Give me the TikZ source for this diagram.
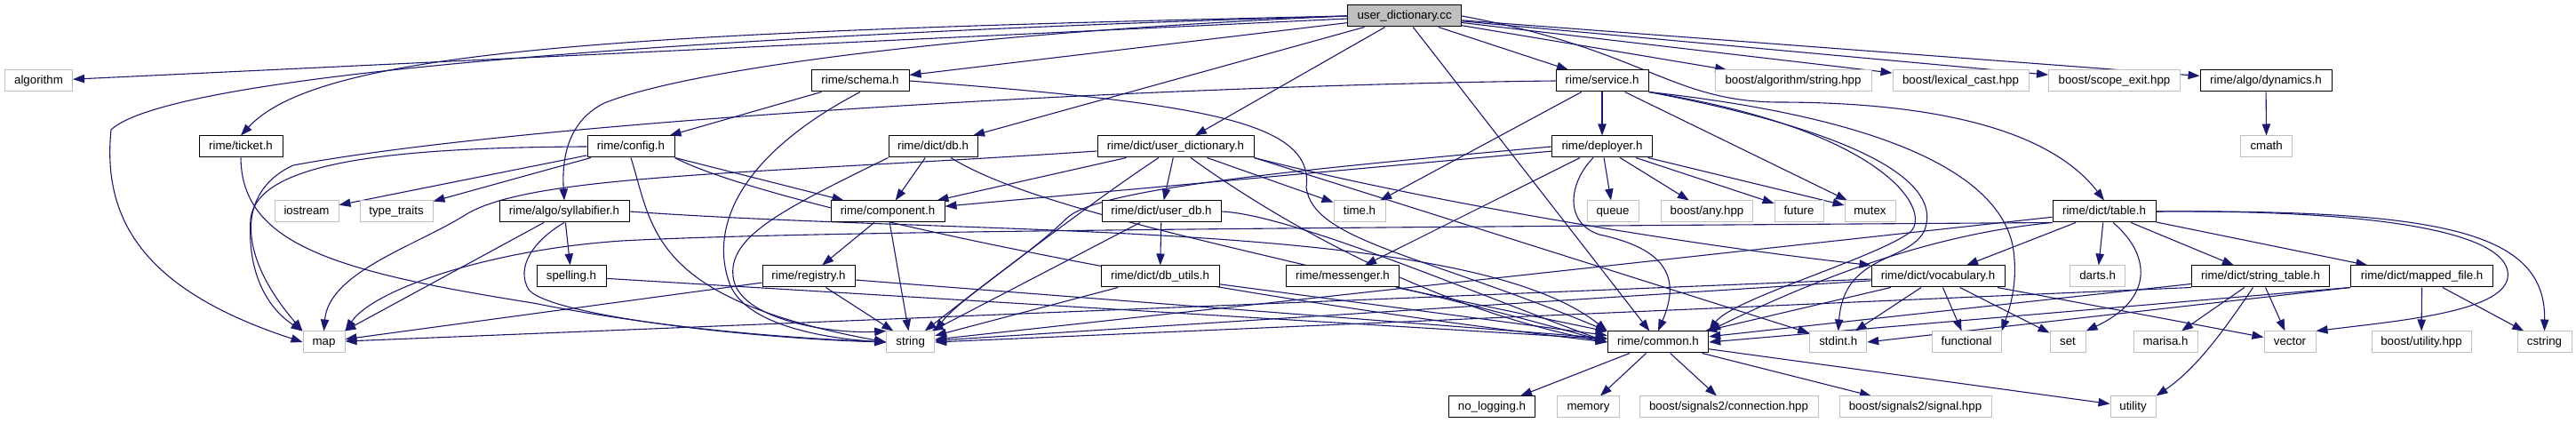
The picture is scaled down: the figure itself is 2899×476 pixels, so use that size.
\documentclass[tikz,border=0pt]{standalone}
\usepackage{fontspec}
\setmainfont{Liberation Sans}
\usetikzlibrary{arrows.meta}
\definecolor{edgeblue}{RGB}{25,25,112}
\definecolor{lgray}{RGB}{191,191,191}
\pgfdeclarelayer{edgelayer}
\pgfsetlayers{edgelayer,main}
\tikzset{
 nb/.style={rectangle, minimum height=24pt, inner sep=0pt, text height=9pt, text depth=1pt, font=\fontsize{13.3}{15}\selectfont, line width=1pt, fill=white},
 sysbox/.style={nb, draw=lgray},
 hdrbox/.style={nb, draw=black},
 rootbox/.style={nb, draw=black, fill=lgray},
 dep/.style={draw=edgeblue, line width=1.1pt, -{Triangle[length=13pt,width=9.3pt]}},
}
\begin{document}
\begin{tikzpicture}[x=1pt,y=1pt]
\useasboundingbox (0,0) rectangle (2899,476);
% row 0
\node[rootbox, minimum width=128pt] (cc) at (1580.6,458) {user\_dictionary.cc};
% row 1
\node[sysbox, minimum width=76pt] (algorithm) at (43.5,385) {algorithm};
\node[hdrbox, minimum width=110pt] (schema) at (968,385) {rime/schema.h};
\node[hdrbox, minimum width=104pt] (service) at (1803,385) {rime/service.h};
\node[sysbox, minimum width=176pt] (bstring) at (2018,385) {boost/algorithm/string.hpp};
\node[sysbox, minimum width=153pt] (lexical) at (2206.5,385) {boost/lexical\_cast.hpp};
\node[sysbox, minimum width=148pt] (scope) at (2379.5,385) {boost/scope\_exit.hpp};
\node[hdrbox, minimum width=148pt] (dynamics) at (2550,385) {rime/algo/dynamics.h};
% row 2
\node[hdrbox, minimum width=94pt] (ticket) at (271,311) {rime/ticket.h};
\node[hdrbox, minimum width=98pt] (config) at (710,311) {rime/config.h};
\node[hdrbox, minimum width=100pt] (db) at (1050,311) {rime/dict/db.h};
\node[hdrbox, minimum width=176pt] (udict) at (1323,311) {rime/dict/user\_dictionary.h};
\node[hdrbox, minimum width=113pt] (deployer) at (1803,311) {rime/deployer.h};
\node[sysbox, minimum width=58pt] (cmath) at (2550.6,311) {cmath};
% row 3
\node[sysbox, minimum width=72pt] (iostream) at (345,238) {iostream};
\node[sysbox, minimum width=82pt] (typetraits) at (446,238) {type\_traits};
\node[hdrbox, minimum width=146pt] (syllab) at (635,238) {rime/algo/syllabifier.h};
\node[hdrbox, minimum width=128pt] (component) at (999,238) {rime/component.h};
\node[hdrbox, minimum width=134pt] (userdb) at (1307,238) {rime/dict/user\_db.h};
\node[sysbox, minimum width=58pt] (time) at (1530,238) {time.h};
\node[sysbox, minimum width=58pt] (queue) at (1815,238) {queue};
\node[sysbox, minimum width=103pt] (any) at (1921,238) {boost/any.hpp};
\node[sysbox, minimum width=55pt] (future) at (2024.5,238) {future};
\node[sysbox, minimum width=57pt] (mutex) at (2104.5,238) {mutex};
\node[hdrbox, minimum width=116pt] (table) at (2368,238) {rime/dict/table.h};
% row 4
\node[hdrbox, minimum width=78pt] (spelling) at (643,165) {spelling.h};
\node[hdrbox, minimum width=104pt] (registry) at (910,165) {rime/registry.h};
\node[hdrbox, minimum width=133pt] (dbutils) at (1305.5,165) {rime/dict/db\_utils.h};
\node[hdrbox, minimum width=127pt] (messenger) at (1511,165) {rime/messenger.h};
\node[hdrbox, minimum width=150pt] (vocab) at (2181,165) {rime/dict/vocabulary.h};
\node[sysbox, minimum width=62pt] (darts) at (2360.6,165) {darts.h};
\node[hdrbox, minimum width=155pt] (stringtable) at (2544,165) {rime/dict/string\_table.h};
\node[hdrbox, minimum width=160pt] (mappedfile) at (2725.6,165) {rime/dict/mapped\_file.h};
% row 5
\node[sysbox, minimum width=47pt] (map) at (364.5,91) {map};
\node[sysbox, minimum width=54pt] (string) at (1024.7,91) {string};
\node[hdrbox, minimum width=113.5pt] (common) at (1866,91) {rime/common.h};
\node[sysbox, minimum width=64pt] (stdint) at (2068.7,91) {stdint.h};
\node[sysbox, minimum width=78pt] (functional) at (2213,91) {functional};
\node[sysbox, minimum width=40pt] (set) at (2327,91) {set};
\node[sysbox, minimum width=72pt] (marisa) at (2437,91) {marisa.h};
\node[sysbox, minimum width=58pt] (vector) at (2577,91) {vector};
\node[sysbox, minimum width=112pt] (butil) at (2725,91) {boost/utility.hpp};
\node[sysbox, minimum width=61pt] (cstring) at (2863.5,91) {cstring};
% row 6
\node[hdrbox, minimum width=97pt] (nologging) at (1679,18) {no\_logging.h};
\node[sysbox, minimum width=70pt] (memory) at (1787.5,18) {memory};
\node[sysbox, minimum width=201pt] (connection) at (1945.5,18) {boost/signals2/connection.hpp};
\node[sysbox, minimum width=171pt] (signal) at (2155.5,18) {boost/signals2/signal.hpp};
\node[sysbox, minimum width=51pt] (utility) at (2400.5,18) {utility};

\begin{pgfonlayer}{edgelayer}
% user_dictionary.cc
\draw[dep] (cc) -- (algorithm);
\draw[dep] (cc.west) .. controls (900,440) and (200,400) .. (125,330) .. controls (115,230) and (160,150) .. (map.west);
\draw[dep] (cc.west) .. controls (700,440) and (360,420) .. (ticket.north);
\draw[dep] (cc.west) .. controls (1100,440) and (780,400) .. (680,360) .. controls (640,340) and (632,300) .. (syllab.north);
\draw[dep] (cc) -- (schema);
\draw[dep] (cc) -- (db);
\draw[dep] (cc) -- (udict);
\draw[dep] (cc) -- (common);
\draw[dep] (cc) -- (service);
\draw[dep] (cc) -- (bstring);
\draw[dep] (cc) -- (lexical);
\draw[dep] (cc) -- (scope);
\draw[dep] (cc) -- (dynamics);
\draw[dep] (cc.east) .. controls (1850,420) and (1880,362) .. (2000,361) .. controls (2250,361) and (2330,300) .. (table.north);
\draw[dep] (dynamics) -- (cmath);
% schema
\draw[dep] (schema) -- (config);
\draw[dep] (schema.south) .. controls (830,300) and (800,220) .. (820,160) .. controls (835,110) and (930,95) .. (string.west);
\draw[dep] (schema.east) .. controls (1350,360) and (1480,340) .. (1470,265) .. controls (1478,205) and (1600,190) .. (common.north west);
% ticket
\draw[dep] (ticket.south) .. controls (272,200) and (380,170) .. (600,135) .. controls (750,105) and (900,95) .. (string.west);
% config
\draw[dep] (config.west) .. controls (420,310) and (290,290) .. (282,230) .. controls (278,170) and (300,130) .. (map.north west);
\draw[dep] (config) -- (iostream);
\draw[dep] (config) -- (typetraits);
\draw[dep] (config.south) .. controls (735,220) and (730,140) .. (string.west);
\draw[dep] (config) -- (component);
\draw[dep] (config.south east) .. controls (850,250) and (1300,150) .. (common.west);
% syllabifier
\draw[dep] (syllab) -- (map);
\draw[dep] (syllab) -- (spelling);
\draw[dep] (syllab.south) .. controls (600,205) and (580,175) .. (595,150) .. controls (620,120) and (850,95) .. (string.west);
\draw[dep] (syllab.east) .. controls (1100,210) and (1650,230) .. (common.north west);
\draw[dep] (spelling) -- (common);
% db
\draw[dep] (db) -- (component);
\draw[dep] (db.south west) .. controls (880,240) and (820,210) .. (825,165) .. controls (830,115) and (940,100) .. (string.north west);
\draw[dep] (db) .. controls (1180,230) and (1500,180) .. (common.west);
% user_dictionary.h
\draw[dep] ([yshift=-5pt]udict.west) .. controls (850,280) and (600,280) .. (525,235) .. controls (470,200) and (370,170) .. (map.north);
\draw[dep] (udict) -- (component);
\draw[dep] (udict) .. controls (1230,250) and (1100,150) .. (string);
\draw[dep] (udict) -- (userdb);
\draw[dep] (udict) -- (time);
\draw[dep] (udict.south east) .. controls (1600,250) and (1900,200) .. (vocab.north west);
\draw[dep] (udict) .. controls (1420,240) and (1600,130) .. (common.west);
\draw[dep] (udict.south east) -- (stdint);
% user_db, db_utils
\draw[dep] (userdb) -- (dbutils);
\draw[dep] (userdb) -- (string);
\draw[dep] (userdb.east) .. controls (1450,235) and (1650,150) .. (common.west);
\draw[dep] (dbutils) -- (string);
\draw[dep] (dbutils) -- (common);
% registry, component
\draw[dep] (registry) -- (map);
\draw[dep] (registry) -- (string);
\draw[dep] (registry) -- (common);
\draw[dep] (component) -- (registry);
\draw[dep] (component) -- (string);
% service
\draw[dep] (service.west) .. controls (1300,380) and (600,340) .. (330,290) .. controls (275,265) and (258,200) .. (map.north west);
\draw[dep] (service) -- (time);
\draw[dep] (service) -- (deployer);
\draw[dep] (service) -- (mutex);
\draw[dep] (service.south east) .. controls (2120,330) and (2175,240) .. (2150,215) .. controls (2110,185) and (1950,140) .. (common.north east);
\draw[dep] (service.south east) .. controls (2130,320) and (2185,260) .. (2165,215) .. controls (2145,180) and (2075,190) .. (stdint.north);
\draw[dep] (service.south east) .. controls (2150,340) and (2250,270) .. (2265,200) .. controls (2272,160) and (2262,130) .. (functional.north east);
% deployer
\draw[dep] (deployer) -- (component);
\draw[dep] (deployer.west) .. controls (1400,280) and (1230,260) .. (1200,230) .. controls (1160,190) and (1080,140) .. (string.north east);
\draw[dep] (deployer) -- (queue);
\draw[dep] (deployer) -- (any);
\draw[dep] (deployer) -- (future);
\draw[dep] (deployer) -- (mutex);
\draw[dep] (deployer) -- (messenger);
\draw[dep] ([xshift=-10pt]deployer.south) .. controls (1765,270) and (1760,225) .. (1800,212) .. controls (1880,195) and (1890,160) .. (common.north);
\draw[dep] (messenger) -- (common);
% table
\draw[dep] (table.south west) .. controls (1500,220) and (900,216) .. (700,205) .. controls (550,195) and (420,150) .. (map.north east);
\draw[dep] (table) -- (string);
\draw[dep] (table.south west) .. controls (2200,215) and (2080,180) .. (common.north east);
\draw[dep] (table) -- (vocab);
\draw[dep] (table) -- (darts);
\draw[dep] ([xshift=10pt]table.south) .. controls (2420,190) and (2425,140) .. (set.north east);
\draw[dep] (table) -- (stringtable);
\draw[dep] (table) -- (mappedfile);
\draw[dep] (table.east) .. controls (2700,240) and (2830,210) .. (2822,163) .. controls (2815,125) and (2700,115) .. (vector.north east);
\draw[dep] (table.east) .. controls (2750,240) and (2865,215) .. (cstring.north);
% vocabulary
\draw[dep] (vocab) -- (map);
\draw[dep] (vocab) -- (string);
\draw[dep] (vocab) -- (common);
\draw[dep] (vocab) -- (stdint);
\draw[dep] (vocab) -- (functional);
\draw[dep] (vocab) -- (set);
\draw[dep] (vocab) -- (vector);
% string_table
\draw[dep] (stringtable.south west) -- (string.east);
\draw[dep] (stringtable) -- (common);
\draw[dep] (stringtable) -- (marisa);
\draw[dep] (stringtable) -- (vector);
\draw[dep] (stringtable) .. controls (2500,100) and (2470,60) .. (utility.north east);
% mapped_file
\draw[dep] (mappedfile.south west) -- (stdint.east);
\draw[dep] (mappedfile.south west) -- (common.east);
\draw[dep] (mappedfile) -- (butil);
\draw[dep] (mappedfile) -- (cstring);
% common
\draw[dep] (common) -- (nologging);
\draw[dep] (common) -- (memory);
\draw[dep] (common) -- (connection);
\draw[dep] (common) -- (signal);
\draw[dep] (common) -- (utility);
\end{pgfonlayer}
\end{tikzpicture}
\end{document}
